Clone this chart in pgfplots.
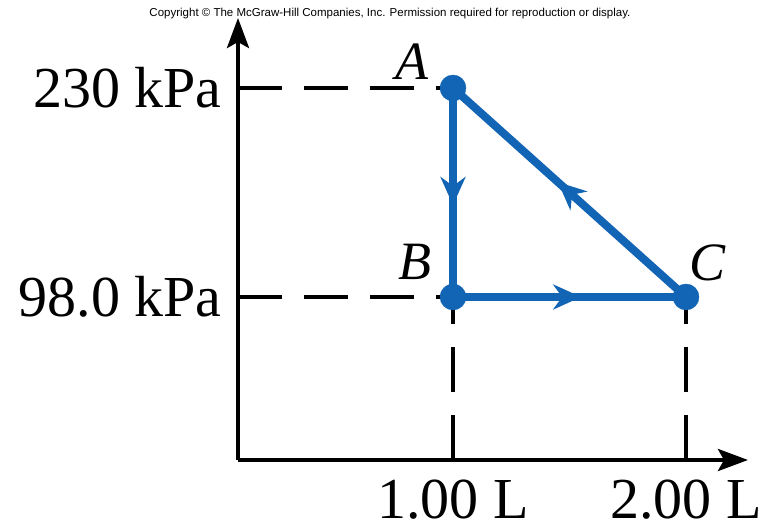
\documentclass[border=0pt]{standalone}
\usepackage{pgfplots}
\pgfplotsset{compat=1.18}
\usepackage{fontspec}
\setmainfont{Liberation Serif}
\newfontfamily\sansf{Liberation Sans}
\usetikzlibrary{arrows.meta,decorations.markings}
\definecolor{cycblue}{RGB}{18,100,180}
\tikzset{midarrow/.style={postaction={decorate},decoration={markings,mark=at position #1 with {\arrow{Stealth[length=28pt,width=25pt,inset=9pt]}}}}}
\begin{document}
\begin{tikzpicture}
\path (-238pt,-68pt) rectangle (526pt,460pt);
\begin{axis}[
  at={(0pt,0pt)}, anchor=south west,
  scale only axis, width=510pt, height=442pt,
  xmin=0.0773, xmax=2.266, ymin=-4.95, ymax=274.2,
  axis lines=left,
  axis line style={line width=4pt, black},
  x axis line style={-{Stealth[length=30pt,width=22pt,inset=6pt]}},
  y axis line style={-{Stealth[length=30pt,width=22pt,inset=6pt]}},
  xtick={1,2}, xticklabels={1.00 L, 2.00 L},
  ytick={98,230}, yticklabels={98.0 kPa, 230 kPa},
  major tick length=0pt,
  tick label style={font=\fontsize{58}{62}\selectfont, inner sep=0pt},
  xticklabel style={anchor=north, yshift=-20pt},
  yticklabel style={anchor=east, xshift=-16pt},
  clip=false,
]
% dashed guide lines
\addplot[black, line width=4pt, dash pattern=on 44pt off 22pt] coordinates {(0.0773,230) (1,230)};
\addplot[black, line width=4pt, dash pattern=on 44pt off 22pt] coordinates {(0.0773,98) (1,98)};
\addplot[black, line width=4pt, dash pattern=on 45pt off 23pt] coordinates {(1,-4.95) (1,98)};
\addplot[black, line width=4pt, dash pattern=on 45pt off 23pt] coordinates {(2,-4.95) (2,98)};
% cycle
\addplot[cycblue, line width=8pt, midarrow=0.56] coordinates {(1,230) (1,98)};
\addplot[cycblue, line width=8pt, midarrow=0.55] coordinates {(1,98) (2,98)};
\addplot[cycblue, line width=8pt, midarrow=0.55] coordinates {(2,98) (1,230)};
\addplot[cycblue, only marks, mark=*, mark size=13pt, mark options={draw=cycblue, fill=cycblue}] coordinates {(1,230) (1,98) (2,98)};
\node[font=\fontsize{54}{58}\selectfont\itshape] at (axis cs:0.824,246.4) {A};
\node[font=\fontsize{54}{58}\selectfont\itshape] at (axis cs:0.837,120) {B};
\node[font=\fontsize{54}{58}\selectfont\itshape] at (axis cs:2.094,119.5) {C};
\end{axis}
\node[font=\sansf\fontsize{11.5}{13}\selectfont] at (152pt,446pt) {Copyright \textcopyright{} The McGraw-Hill Companies, Inc. Permission required for reproduction or display.};
\end{tikzpicture}
\end{document}
